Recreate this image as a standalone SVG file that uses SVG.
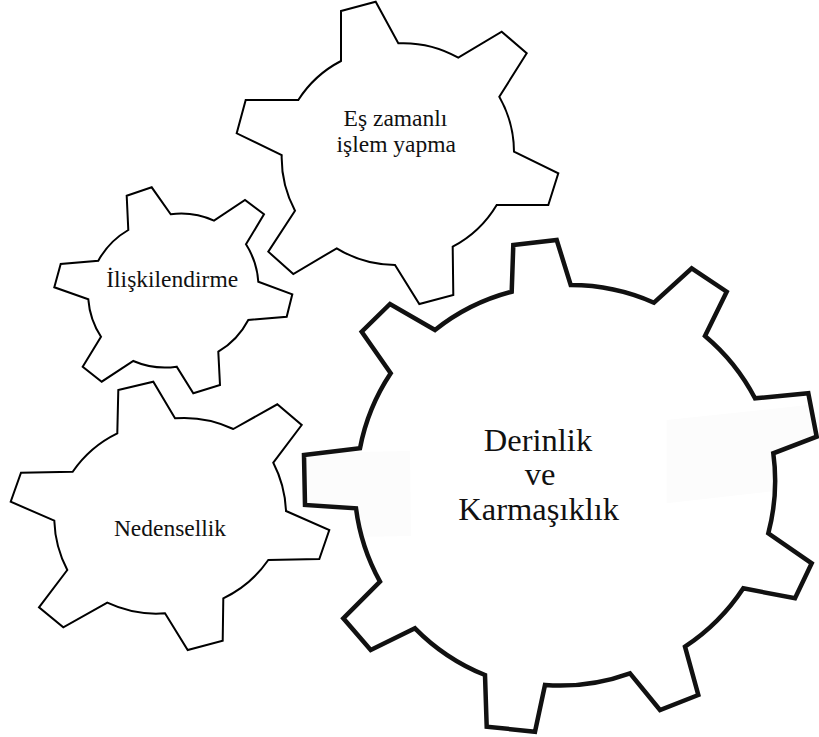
<svg xmlns="http://www.w3.org/2000/svg" xmlns:xlink="http://www.w3.org/1999/xlink" width="819" height="737" viewBox="0 0 819 737">
<style>
.gear{fill:#fff;stroke:#000;stroke-linejoin:miter}
.thin{stroke-width:2}
.lbl{font-family:"Liberation Serif","Times New Roman",serif;fill:#111;text-anchor:middle}
.sm{font-size:23.5px}
.lg{font-size:32.5px}
</style>
<defs>
<path id="bigGear" d="M513.3,245 L556.7,240 L570.7,285 A205,205 0 0 1 654,302.7 L691.7,268.3 L726.7,291.7 L705,336 A205,205 0 0 1 755,398.3 L808.3,393.3 L816.7,436.7 L773.3,453.3 A205,205 0 0 1 768.3,533.3 L811.7,563.3 L795,598.3 L743.3,588.3 A205,205 0 0 1 685,646.7 L698.3,695 L660,710 L630,673.3 A205,205 0 0 1 545,685 L535,731.7 L486.7,726.7 L485,675 A205,205 0 0 1 415,628.3 L370.7,650 L343.3,618.3 L380,581.7 A205,205 0 0 1 356,508.3 L305,505 L304,455 L360,448.3 A205,205 0 0 1 390.7,373.3 L361.7,331.7 L390,304 L435,330 A205,205 0 0 1 511.7,291.7 Z"/>
<clipPath id="bigClip"><use xlink:href="#bigGear"/></clipPath>
</defs>
<rect width="819" height="737" fill="#fff"/>
<g id="connectors"></g>
<g id="gear-es-zamanli">
<path class="gear thin" d="M341,11 L375.7,1.7 L398.3,43.3 A112,112 0 0 1 458.3,57.7 L501.7,31.7 L526.7,53.3 L499.3,96.7 A112,112 0 0 1 514,151.7 L558.3,173.3 L548.3,205 L496.7,205 A112,112 0 0 1 452.7,246.7 L453.3,295 L419.3,304 L395,265 A112,112 0 0 1 336.7,248.3 L293.3,274 L268.3,251.7 L295,210.7 A112,112 0 0 1 281.7,155 L236.7,133.3 L245.7,100 L298.3,100 A112,112 0 0 1 341,61 Z"/>
<text class="lbl sm" x="395.5" y="126">Eş zamanlı</text>
<text class="lbl sm" x="396.3" y="151.5">işlem yapma</text>
</g>
<g id="gear-iliskilendirme">
<path class="gear thin" d="M126.7,195.7 L151.7,187.3 L170.7,214.3 A80,80 0 0 1 214,220.7 L245,200 L264,214.3 L246,244.3 A80,80 0 0 1 258.3,281.7 L292.3,294.3 L286.7,316.7 L248.3,320 A80,80 0 0 1 218.3,351.7 L220,385 L193.3,393.3 L176.7,366.7 A80,80 0 0 1 133.3,361 L101.7,381.7 L82.7,366.7 L101,336.7 A80,80 0 0 1 88.3,299.3 L54.3,287.3 L60.7,264 L98.3,260.7 A80,80 0 0 1 128.3,230 Z"/>
<text class="lbl sm" x="172.2" y="286.5">İlişkilendirme</text>
</g>
<g id="gear-nedensellik">
<path class="gear thin" d="M118.3,390 L153.3,381.7 L175,418.3 A115,115 0 0 1 233.3,429 L277.3,404.3 L301.7,425 L273.3,462.7 A115,115 0 0 1 286,511 L329.3,530 L319.3,559 L268.3,560 A115,115 0 0 1 223.3,598.3 L222.7,640.7 L187.7,650 L165,613.3 A115,115 0 0 1 107.3,602.7 L63.3,627.3 L39,607.3 L67.3,570 A115,115 0 0 1 54.3,520.7 L10.7,501.7 L21,472.7 L72.7,471.7 A115,115 0 0 1 117.3,433.3 Z"/>
<text class="lbl sm" x="170" y="536">Nedensellik</text>
</g>
<g id="gear-derinlik">
<use xlink:href="#bigGear" fill="#fff"/>
<g clip-path="url(#bigClip)" fill="#fcfcfc">
<polygon points="666.7,420 818,404 818,486 666.7,503.3"/>
<polygon points="300,453 410,451 411,536 300,538"/>
</g>
<use xlink:href="#bigGear" fill="none" stroke="#111" stroke-width="4.5"/>
<text class="lbl lg" x="538" y="451">Derinlik</text>
<text class="lbl lg" x="540" y="485">ve</text>
<text class="lbl lg" x="538.7" y="520">Karmaşıklık</text>
</g>
</svg>
